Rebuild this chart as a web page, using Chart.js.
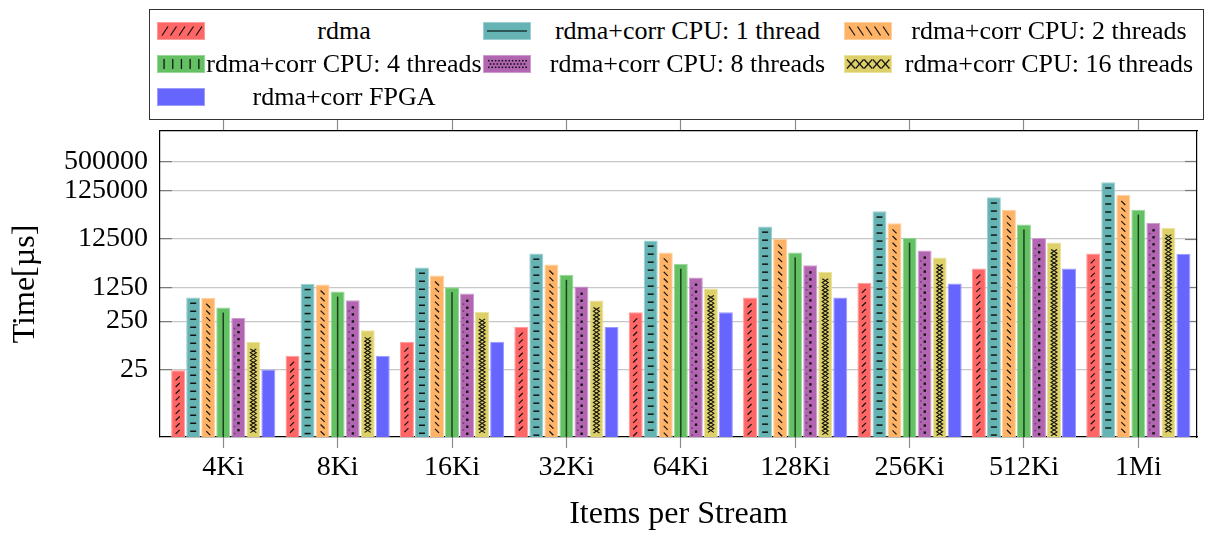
<!DOCTYPE html>
<html>
<head>
<meta charset="utf-8">
<script src="https://cdn.jsdelivr.net/npm/chart.js@4.4.1/dist/chart.umd.min.js"></script>
<style>
html,body{margin:0;padding:0;background:#fff;}
#wrap{position:relative;width:1205px;height:534px;overflow:hidden;background:#fff;}
#c{position:absolute;left:0;top:0;}
#legend{position:absolute;left:149px;top:9px;width:1055px;height:111px;border:1.3px solid #333;background:#fff;box-sizing:border-box;
  display:grid;grid-template-columns:48px 278px 48px 313px 50px 310px;grid-auto-rows:33px;padding:4px 0 0 7px;
  font-family:'Liberation Serif','Times New Roman',serif;font-size:26px;color:#000;}
#legend canvas{align-self:center;display:block;}
#legend .lb{text-align:center;align-self:center;white-space:nowrap;line-height:1;}
</style>
</head>
<body>
<div id="wrap">
  <canvas id="c" width="1205" height="534"></canvas>
  <div id="legend"></div>
</div>
<script>
// ---------------- data ----------------
const categories = ['4Ki', '8Ki', '16Ki', '32Ki', '64Ki', '128Ki', '256Ki', '512Ki', '1Mi'];
const seriesLabels = [
  'rdma',
  'rdma+corr CPU: 1 thread',
  'rdma+corr CPU: 2 threads',
  'rdma+corr CPU: 4 threads',
  'rdma+corr CPU: 8 threads',
  'rdma+corr CPU: 16 threads',
  'rdma+corr FPGA'
];
const rdma   = [24, 48, 94, 192, 380, 770, 1550, 3070, 6290];
const cpu1   = [770, 1480, 3220, 6290, 11700, 22800, 46800, 91200, 187000];
const cpu2   = [760, 1430, 2200, 3720, 6600, 12700, 26400, 50700, 102000];
const cpu4   = [477, 1020, 1260, 2270, 3850, 6600, 13300, 25100, 50700];
const cpu8   = [291, 676, 930, 1300, 2000, 3590, 7260, 13100, 26700];
const cpu16  = [92.5, 161, 388, 666, 1180, 2620, 5190, 10600, 21500];
const fpga   = [25, 48, 94, 190, 380, 770, 1510, 3070, 6200];
const yTicks = [25, 250, 1250, 12500, 125000, 500000];

// ---------------- styles ----------------
const seriesValues = [rdma, cpu1, cpu2, cpu4, cpu8, cpu16, fpga];
const colors = ['#ff6666', '#66b3b3', '#ffb366', '#63c063', '#b266b2', '#ddd068', '#6666ff'];
const edges  = ['#ff9a9a', '#9ccfcf', '#ffcf9c', '#99d699', '#cf9ccf', '#ebe29c', '#9c9cff'];
const marks  = ['ne', 'hdash', 'nw', 'vline', 'dots', 'cross', 'none'];
const FONT = "'Liberation Serif', 'Times New Roman', serif";

function seg(c, x1, y1, x2, y2) { c.beginPath(); c.moveTo(x1, y1); c.lineTo(x2, y2); c.stroke(); }

function drawBarMarks(c, style, cx, top, bottom) {
  c.save();
  c.strokeStyle = '#141414'; c.fillStyle = '#141414'; c.lineWidth = 1.2;
  const h = bottom - top;
  if (style === 'ne' || style === 'nw') {
    for (let y = top + 8; y < bottom - 2; y += 6.7) {
      if (style === 'ne') seg(c, cx - 2.5, y + 2, cx + 1.5, y - 2);
      else seg(c, cx - 2, y - 2, cx + 2, y + 2);
    }
  } else if (style === 'hdash') {
    for (let y = top + 5; y < bottom - 2; y += 8) c.fillRect(cx - 3, y, 6, 1.5);
  } else if (style === 'vline') {
    c.fillStyle = '#1e3f1e';
    if (h > 6) c.fillRect(cx - 0.75, top + 5, 1.5, h - 5);
  } else if (style === 'dots') {
    for (let y = top + 7; y < bottom - 2; y += 7) c.fillRect(cx - 1, y - 1, 2.4, 2.4);
    c.fillStyle = 'rgba(20,20,20,0.45)';
    for (let y = top + 10.5; y < bottom - 2; y += 7) c.fillRect(cx - 4.5, y - 0.7, 1.6, 1.6);
  } else if (style === 'cross') {
    const p = 7.6;
    c.lineWidth = 1.1;
    for (const ph of [0, 1]) {
      c.beginPath();
      let k = 0;
      for (let y = top + 7; y <= bottom - 1; y += p / 2, k++) {
        const x = ((k + ph) % 2 === 0) ? cx - 3 : cx + 3;
        if (k === 0) c.moveTo(x, y); else c.lineTo(x, y);
      }
      c.stroke();
    }
  }
  c.restore();
}

function drawSwatch(cv, color, edge, style) {
  const c = cv.getContext('2d');
  const w = cv.width, h = cv.height, cy = h / 2;
  c.fillStyle = color; c.fillRect(0, 0, w, h);
  c.strokeStyle = edge; c.lineWidth = 1; c.strokeRect(0.5, 0.5, w - 1, h - 1);
  c.strokeStyle = '#141414'; c.fillStyle = '#141414'; c.lineWidth = 1.2;
  for (let k = 0; k < 5; k++) {
    const x0 = 5 + k * 8.5;
    if (style === 'ne') seg(c, x0, cy + 4.5, x0 + 6, cy - 4.5);
    if (style === 'nw') seg(c, x0, cy - 4.5, x0 + 6, cy + 4.5);
    if (style === 'vline') c.fillRect(7 + k * 8.7 - 0.6, cy - 5, 1.3, 10);
    if (style === 'cross') { const xa = 3 + k * 8.6; seg(c, xa, cy - 4.5, xa + 8, cy + 4.5); seg(c, xa, cy + 4.5, xa + 8, cy - 4.5); }
  }
  if (style === 'hdash') { c.fillStyle = '#1e3a3a'; c.fillRect(4, cy - 0.75, 40, 1.5); }
  if (style === 'dots') {
    for (let r = -1; r <= 1; r++) {
      const y = cy + r * 3.3;
      for (let x = 5 + (r === 0 ? 1.7 : 0); x < 43; x += 3.4) c.fillRect(x, y - 0.8, 1.6, 1.6);
    }
  }
}

// ---------------- legend (HTML) ----------------
const legendEl = document.getElementById('legend');
seriesLabels.forEach((lab, i) => {
  const cv = document.createElement('canvas');
  cv.width = 48; cv.height = 18;
  drawSwatch(cv, colors[i], edges[i], marks[i]);
  const sp = document.createElement('div');
  sp.className = 'lb';
  sp.textContent = lab;
  legendEl.appendChild(cv);
  legendEl.appendChild(sp);
});

// ---------------- chart ----------------
const markPlugin = {
  id: 'barMarks',
  afterDatasetsDraw(chart) {
    const c = chart.ctx, a = chart.chartArea;
    c.save();
    c.beginPath(); c.rect(a.left, a.top, a.right - a.left, a.bottom - a.top); c.clip();
    chart.data.datasets.forEach((ds, di) => {
      const meta = chart.getDatasetMeta(di);
      meta.data.forEach(bar => {
        const p = bar.getProps(['x', 'y', 'base'], true);
        drawBarMarks(c, marks[di], p.x, p.y, p.base);
      });
    });
    c.restore();
  }
};

const xMin = -0.553, xMax = 8.513, yMin = 1, yMax = 2.15e6;
const catTicks = s => { s.ticks = categories.map((_, i) => ({ value: i })); };
const logTicks = s => { s.ticks = yTicks.map(v => ({ value: v })); };
const borderOpt = { display: true, color: '#000', width: 1.2 };

new Chart(document.getElementById('c'), {
  type: 'bar',
  data: {
    datasets: seriesValues.map((vals, i) => ({
      label: seriesLabels[i],
      data: vals.map((v, j) => ({ x: j, y: v })),
      backgroundColor: colors[i],
      borderColor: edges[i],
      borderWidth: 1,
      categoryPercentage: 0.92,
      barPercentage: 0.93
    }))
  },
  options: {
    responsive: false,
    animation: false,
    devicePixelRatio: 1,
    layout: { padding: 0 },
    events: [],
    plugins: { legend: { display: false }, tooltip: { enabled: false } },
    scales: {
      x: {
        type: 'linear', position: 'bottom', min: xMin, max: xMax, offset: false,
        afterBuildTicks: catTicks,
        ticks: { callback: v => categories[v] ?? '', font: { family: FONT, size: 28 }, color: '#000', padding: 3, maxRotation: 0, autoSkip: false },
        grid: { drawOnChartArea: false, drawTicks: true, tickLength: 11, tickColor: '#8c8c8c', tickWidth: 1.2, offset: false },
        border: borderOpt,
        title: { display: true, text: 'Items per Stream', font: { family: FONT, size: 32 }, color: '#000', padding: { top: 0, bottom: 0 } },
        afterFit: s => { s.height = 97; }
      },
      xTop: {
        type: 'linear', position: 'top', min: xMin, max: xMax, offset: false,
        afterBuildTicks: catTicks,
        ticks: { display: false },
        grid: { drawOnChartArea: false, drawTicks: true, tickLength: 11, tickColor: '#8c8c8c', tickWidth: 1.2, offset: false },
        border: borderOpt,
        afterFit: s => { s.height = 131; }
      },
      y: {
        type: 'logarithmic', position: 'left', min: yMin, max: yMax,
        afterBuildTicks: logTicks,
        ticks: { callback: v => String(v), font: { family: FONT, size: 28 }, color: '#000', padding: 24, autoSkip: false },
        grid: { color: '#c8c8c8', lineWidth: 1.2, drawTicks: true, tickLength: -12, tickColor: '#7a7a7a', tickWidth: 1.2 },
        border: borderOpt,
        title: { display: true, text: 'Time[µs]', font: { family: FONT, size: 32 }, color: '#000', padding: { top: 6, bottom: 0 } },
        afterFit: s => { s.width = 160; }
      },
      y2: {
        type: 'logarithmic', position: 'right', min: yMin, max: yMax,
        afterBuildTicks: logTicks,
        ticks: { display: false },
        grid: { drawOnChartArea: false, drawTicks: true, tickLength: -12, tickColor: '#7a7a7a', tickWidth: 1.2 },
        border: borderOpt,
        afterFit: s => { s.width = 8; }
      }
    }
  },
  plugins: [markPlugin]
});
</script>
</body>
</html>
